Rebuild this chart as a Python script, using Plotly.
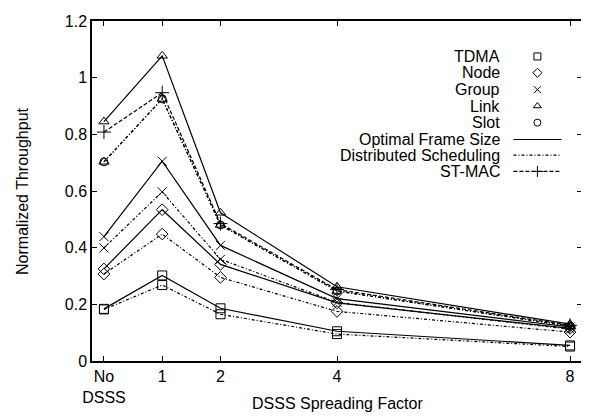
import plotly.graph_objects as go

# ---- data ----
spread_factor = [0, 1, 2, 4, 8]
x_tick_labels = ["No<br>DSSS", "1", "2", "4", "8"]

tdma_opt = [0.184, 0.302, 0.186, 0.105, 0.055]
tdma_dist = [0.182, 0.268, 0.165, 0.095, 0.051]
node_opt = [0.325, 0.534, 0.341, 0.205, 0.115]
node_dist = [0.307, 0.448, 0.295, 0.175, 0.102]
group_opt = [0.439, 0.705, 0.408, 0.220, 0.120]
group_dist = [0.399, 0.597, 0.359, 0.207, 0.112]
link_opt = [0.845, 1.077, 0.523, 0.262, 0.130]
link_dist = [0.703, 0.925, 0.480, 0.247, 0.123]
slot_dist = [0.703, 0.925, 0.480, 0.247, 0.123]
stmac = [0.808, 0.947, 0.485, 0.252, 0.126]

scheme_names = ["TDMA", "Node", "Group", "Link", "Slot"]
method_names = ["Optimal Frame Size", "Distributed Scheduling", "ST-MAC"]
y_ticks = [0, 0.2, 0.4, 0.6, 0.8, 1, 1.2]
y_tick_labels = ["0", "0.2", "0.4", "0.6", "0.8", "1", "1.2"]

# ---- styles ----
FONT = "Liberation Sans, Arial, Helvetica, sans-serif"
SYM = {"TDMA": "square-open", "Node": "diamond-open", "Group": "x-thin-open",
       "Link": "triangle-up-open", "Slot": "circle-open", "ST-MAC": "cross-thin-open"}
MSIZE = {"TDMA": 9, "Node": 9, "Group": 9, "Link": 9, "Slot": 8, "ST-MAC": 10}
DASH = {"Optimal Frame Size": "solid", "Distributed Scheduling": "3px,2px,1px,2px",
        "ST-MAC": "4px,2px"}

fig = go.Figure()


def add_series(y, scheme, method):
    fig.add_trace(go.Scatter(
        x=spread_factor, y=y, mode="lines+markers", showlegend=False,
        line=dict(color="black", width=1.2, dash=DASH[method]),
        marker=dict(symbol=SYM[scheme], size=MSIZE[scheme], color="black",
                    line=dict(color="black", width=1)),
    ))


add_series(tdma_dist, "TDMA", "Distributed Scheduling")
add_series(tdma_opt, "TDMA", "Optimal Frame Size")
add_series(node_dist, "Node", "Distributed Scheduling")
add_series(node_opt, "Node", "Optimal Frame Size")
add_series(group_dist, "Group", "Distributed Scheduling")
add_series(group_opt, "Group", "Optimal Frame Size")
add_series(slot_dist, "Slot", "Distributed Scheduling")
add_series(link_dist, "Link", "Distributed Scheduling")
add_series(stmac, "ST-MAC", "ST-MAC")
add_series(link_opt, "Link", "Optimal Frame Size")

# ---- gnuplot-style key (on a hidden 0..1 overlay axis) ----
key_rows_y = [0.8957, 0.8477, 0.798, 0.750, 0.7011, 0.6514, 0.6055, 0.5575]
key_text_x = 0.837
key_mark_x = 0.909
key_line_x = [0.860, 0.958]

for i, name in enumerate(scheme_names):
    fig.add_trace(go.Scatter(
        x=[key_mark_x], y=[key_rows_y[i]], xaxis="x2", yaxis="y2", mode="markers",
        showlegend=False, hoverinfo="skip",
        marker=dict(symbol=SYM[name], size=7, color="black",
                    line=dict(color="black", width=1)),
    ))
    fig.add_annotation(x=key_text_x, y=key_rows_y[i], xref="paper", yref="paper",
                       text=name, showarrow=False, xanchor="right", yanchor="middle",
                       font=dict(family=FONT, size=16, color="black"))

for j, name in enumerate(method_names):
    ry = key_rows_y[len(scheme_names) + j]
    fig.add_trace(go.Scatter(
        x=key_line_x, y=[ry, ry], xaxis="x2", yaxis="y2", mode="lines",
        showlegend=False, hoverinfo="skip",
        line=dict(color="black", width=1.2, dash=DASH[name]),
    ))
    if name == "ST-MAC":
        fig.add_trace(go.Scatter(
            x=[key_mark_x], y=[ry], xaxis="x2", yaxis="y2", mode="markers",
            showlegend=False, hoverinfo="skip",
            marker=dict(symbol=SYM["ST-MAC"], size=8, color="black",
                        line=dict(color="black", width=1)),
        ))
    fig.add_annotation(x=key_text_x, y=ry, xref="paper", yref="paper",
                       text=name, showarrow=False, xanchor="right", yanchor="middle",
                       font=dict(family=FONT, size=16, color="black"))

# ---- axis titles ----
fig.add_annotation(x=0.5, y=-0.126, xref="paper", yref="paper",
                   text="DSSS Spreading Factor", showarrow=False,
                   xanchor="center", yanchor="middle",
                   font=dict(family=FONT, size=16, color="black"))
fig.add_annotation(x=-0.143, y=0.5, xref="paper", yref="paper",
                   text="Normalized Throughput", showarrow=False, textangle=-90,
                   xanchor="center", yanchor="middle",
                   font=dict(family=FONT, size=16, color="black"))

# page body has an 8px default margin, so the figure is sized/offset for it
fig.update_layout(
    width=581, height=410,
    margin=dict(l=84, r=5, t=5, b=57),
    paper_bgcolor="white", plot_bgcolor="white",
    font=dict(family=FONT, size=16, color="black"),
    showlegend=False,
    xaxis=dict(range=[-0.205, 8.205], tickmode="array", tickvals=spread_factor,
               ticktext=x_tick_labels, ticks="inside", ticklen=5, tickwidth=1,
               tickcolor="black", showline=True, linecolor="black", linewidth=1.5,
               mirror="ticks", showgrid=False, zeroline=False,
               ticklabeloverflow="allow",
               tickfont=dict(family=FONT, size=16, color="black")),
    yaxis=dict(range=[0, 1.2], tickmode="array", tickvals=y_ticks,
               ticktext=y_tick_labels, ticks="inside", ticklen=5, tickwidth=1,
               tickcolor="black", showline=True, linecolor="black", linewidth=1.5,
               mirror="ticks", showgrid=False, zeroline=False,
               ticklabeloverflow="allow",
               tickfont=dict(family=FONT, size=16, color="black")),
    xaxis2=dict(range=[0, 1], overlaying="x", visible=False, fixedrange=True),
    yaxis2=dict(range=[0, 1], overlaying="y", visible=False, fixedrange=True),
)

fig.write_html("out.html")
